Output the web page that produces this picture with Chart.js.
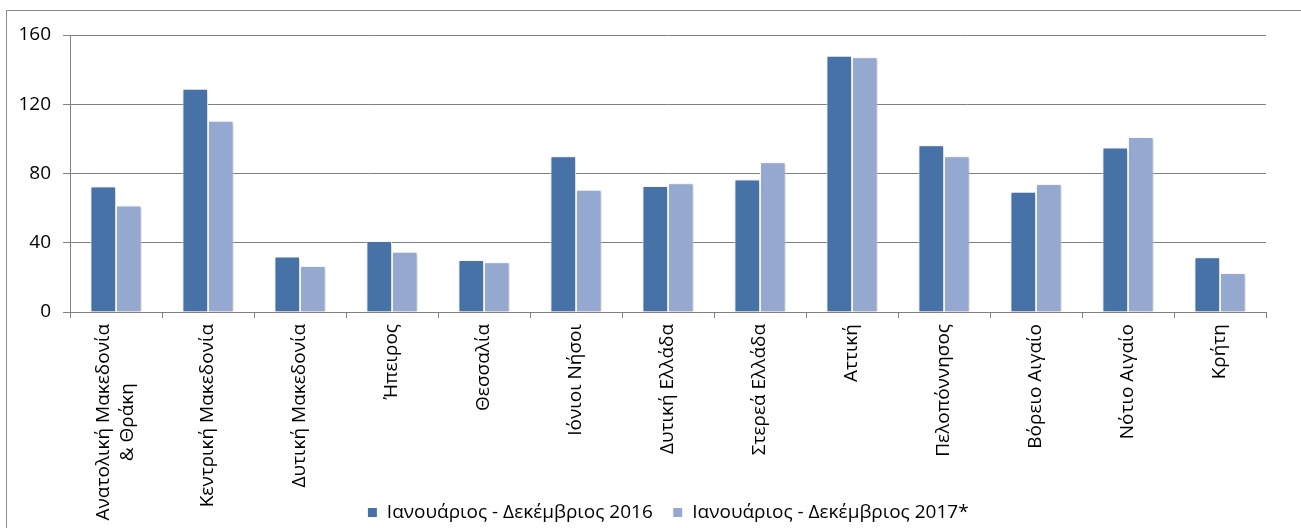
<!DOCTYPE html>
<html><head><meta charset="utf-8">
<script src="https://cdn.jsdelivr.net/npm/chart.js@4"></script>
<style>
html,body{margin:0;padding:0;background:#fff;overflow:hidden;}
#wrap{position:relative;width:1301px;height:528px;overflow:hidden;}
#frame{position:absolute;left:6px;top:10px;width:1400px;height:600px;border-left:1px solid #8a8a8a;border-top:1px solid #8a8a8a;}
canvas{position:absolute;left:0;top:0;}
</style></head><body>
<div id="wrap"><div id="frame"></div><canvas id="c" width="1301" height="532"></canvas></div>
<script>
const categories = [['Ανατολική Μακεδονία','& Θράκη'], 'Κεντρική Μακεδονία', 'Δυτική Μακεδονία', 'Ήπειρος', 'Θεσσαλία', 'Ιόνιοι Νήσοι', 'Δυτική Ελλάδα', 'Στερεά Ελλάδα', 'Αττική', 'Πελοπόννησος', 'Βόρειο Αιγαίο', 'Νότιο Αιγαίο', 'Κρήτη'];
const series2016 = [72.5, 129, 32, 41, 30, 90, 72.8, 76.6, 148, 96.3, 69.5, 95, 31.6];
const series2017 = [61.5, 110.5, 26.5, 34.8, 28.8, 70.6, 74.3, 86.5, 147.1, 89.9, 73.9, 101.1, 22.5];
const seriesNames = ['Ιανουάριος - Δεκέμβριος 2016', 'Ιανουάριος - Δεκέμβριος 2017*'];
const yTicks = [0, 40, 80, 120, 160];

const FONT = '"Open Sans", "Noto Sans", sans-serif';
const GRID = '#808080';

const shadowPlugin = {
  id: 'shadow',
  beforeDatasetsDraw(c) { const x = c.ctx; x.save(); x.shadowColor = 'rgba(0,0,0,0.22)'; x.shadowBlur = 3; x.shadowOffsetX = 1; x.shadowOffsetY = 1; },
  afterDatasetsDraw(c) { c.ctx.restore(); }
};

const xLabelPlugin = {
  id: 'xlabels',
  afterDraw(chart) {
    const sc = chart.scales.x, ctx = chart.ctx;
    ctx.save();
    ctx.font = '19px ' + FONT;
    ctx.fillStyle = '#000';
    ctx.textBaseline = 'middle';
    ctx.textAlign = 'center';
    const lh = 24;
    categories.forEach((lab, i) => {
      const lines = Array.isArray(lab) ? lab : [lab];
      const x = sc.getPixelForTick(i);
      const y0 = sc.top + 12;
      const w = Math.max(...lines.map(l => ctx.measureText(l).width));
      ctx.save();
      ctx.translate(x, y0);
      ctx.rotate(-Math.PI / 2);
      lines.forEach((l, j) => ctx.fillText(l, -w / 2, (j - (lines.length - 1) / 2) * lh));
      ctx.restore();
    });
    ctx.restore();
  }
};

new Chart(document.getElementById('c'), {
  type: 'bar',
  data: {
    labels: categories,
    datasets: [
      { label: seriesNames[0], data: series2016, backgroundColor: '#4672a7', borderColor: '#ffffff', borderWidth: 1 },
      { label: seriesNames[1], data: series2017, backgroundColor: '#95a9d0', borderColor: '#ffffff', borderWidth: 1 }
    ]
  },
  options: {
    responsive: false,
    animation: false,
    devicePixelRatio: 1,
    layout: { padding: { left: 0, right: 35, top: 35, bottom: 0 } },
    datasets: { bar: { categoryPercentage: 0.555, barPercentage: 1 } },
    plugins: {
      tooltip: { enabled: false },
      legend: {
        position: 'bottom',
        fullSize: false,
        labels: { boxWidth: 10, boxHeight: 10, padding: 20, color: '#000', font: { family: FONT, size: 19 } }
      }
    },
    scales: {
      x: {
        grid: { display: true, offset: true, drawOnChartArea: false, drawTicks: true, tickLength: 6, color: GRID },
        border: { display: true, color: GRID },
        ticks: { display: false },
        afterFit(s) { s.height = 171; }
      },
      y: {
        min: 0, max: 160,
        afterBuildTicks(s) { s.ticks = yTicks.map(v => ({ value: v })); },
        grid: { color: GRID, tickLength: 7, lineWidth: 1 },
        border: { display: true, color: GRID },
        ticks: { padding: 12, color: '#000', font: { family: FONT, size: 19 } },
        afterFit(s) { s.width = 70; }
      }
    }
  },
  plugins: [shadowPlugin, xLabelPlugin]
});
</script>
</body></html>
